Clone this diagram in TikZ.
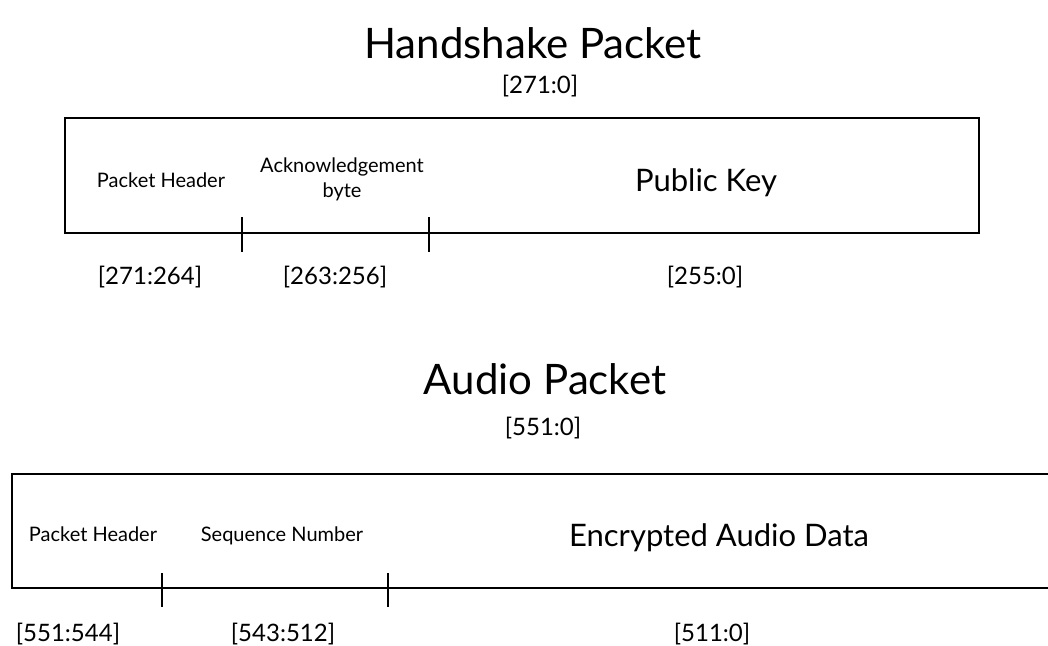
\documentclass[tikz,border=0pt]{standalone}
\usepackage{fontspec}
\setmainfont{Lato}
\usepackage{tikz}
\usetikzlibrary{positioning}
\tikzset{
  ttl/.style={anchor=base, font=\fontsize{21}{24}\selectfont},
  rng/.style={anchor=base, font=\fontsize{12}{14}\selectfont},
  fld/.style={anchor=base, font=\fontsize{15.5}{18}\selectfont},
  sub/.style={anchor=base, align=center, font=\fontsize{10}{12.5}\selectfont},
  frame/.style={line width=1pt},
  tick/.style={line width=1.4pt},
}

\begin{document}
\begin{tikzpicture}[x=0.5pt, y=-0.5pt]
        \useasboundingbox (0,0) rectangle (1048,645);
        \clip (0,0) rectangle (1048,645);
        % handshake packet
        \node[ttl] (hsTitle) at (533,58) {Handshake Packet};
        \node[rng] (hsAll) at (540,93) {[271:0]};
        \draw[frame] (65,118) rectangle (979,233);
        \node[sub] (hsHdr) at (161,187) {Packet Header};
        \node[sub] (hsAck) at (342,197) {Acknowledgement\\byte};
        \node[fld] (hsKey) at (706,191) {Public Key};
        \foreach \t in {242,429} {
          \draw[tick] (\t,217) -- (\t,252);
        }
        \node[rng] (hsR1) at (150,284) {[271:264]};
        \node[rng] (hsR2) at (335,284) {[263:256]};
        \node[rng] (hsR3) at (705,284) {[255:0]};
        % audio packet
        \node[ttl] (auTitle) at (545,394) {Audio Packet};
        \node[rng] (auAll) at (543,435) {[551:0]};
        \draw[frame] (1060,474) -- (12,474) -- (12,588) -- (1060,588);
        \node[sub] (auHdr) at (93,541) {Packet Header};
        \node[sub] (auSeq) at (282,541) {Sequence Number};
        \node[fld] (auData) at (719,546) {Encrypted Audio Data};
        \foreach \t in {162,388} {
          \draw[tick] (\t,573) -- (\t,607);
        }
        \node[rng] (auR1) at (68,641) {[551:544]};
        \node[rng] (auR2) at (283,641) {[543:512]};
        \node[rng] (auR3) at (712,641) {[511:0]};
      \end{tikzpicture}
\end{document}
